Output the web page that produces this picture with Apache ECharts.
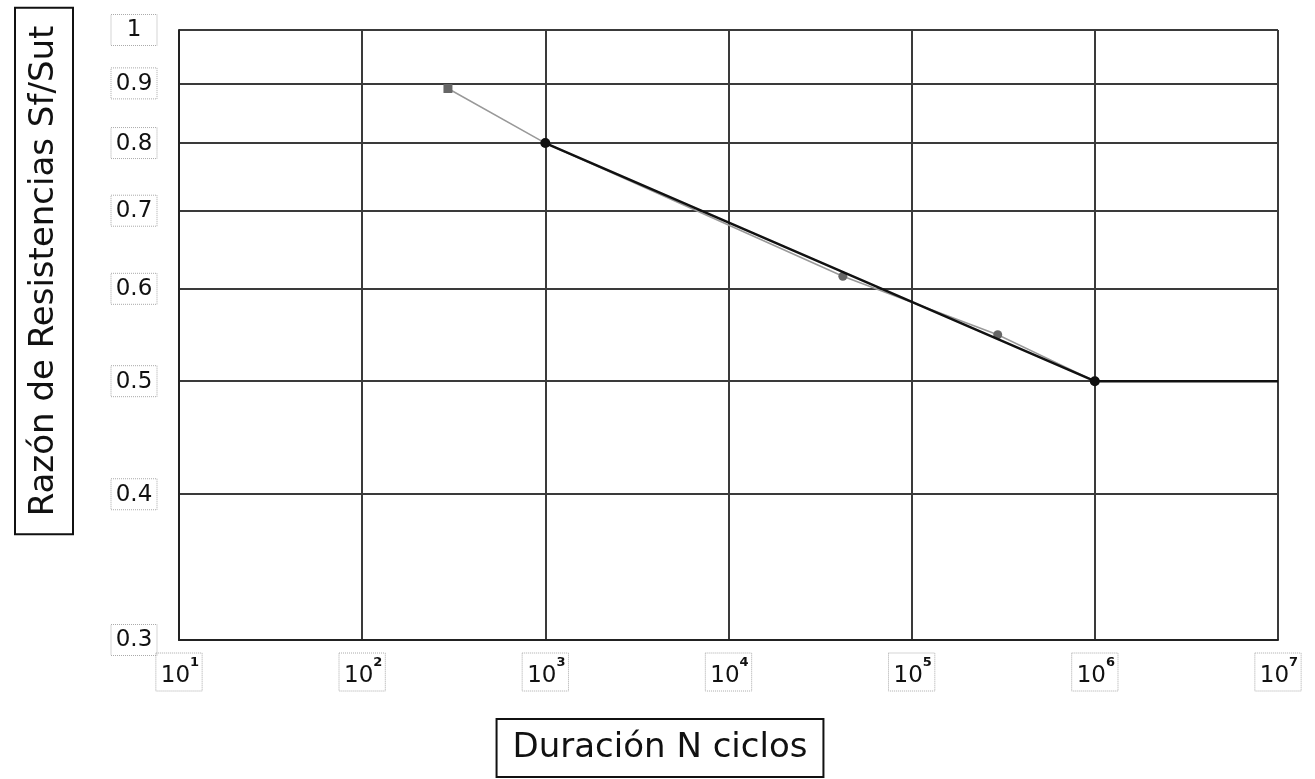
<!DOCTYPE html>
<html>
<head>
<meta charset="utf-8">
<script src="https://cdn.jsdelivr.net/npm/echarts@6/dist/echarts.min.js"></script>
<style>html,body{margin:0;padding:0;background:#fff}#c{width:1315px;height:779px}</style>
</head>
<body>
<div id="c"></div>
<script>
const yTicks = [0.3, 0.4, 0.5, 0.6, 0.7, 0.8, 0.9, 1];
const xExponents = [1, 2, 3, 4, 5, 6, 7];
const greyN = [294, 1000, 42100, 295000, 1000000];
const greyS = [0.891, 0.8, 0.615, 0.548, 0.5];
const blackN = [1000, 1000000, 10000000];
const blackS = [0.8, 0.5, 0.5];
const yTitle = 'Razón de Resistencias Sf/Sut';
const xTitle = 'Duración N ciclos';

const FONT = 'DejaVu Sans';
const chart = echarts.init(document.getElementById('c'));
const greyData = greyN.map((n, i) => ({ value: [n, greyS[i]], symbol: i === 0 ? 'rect' : 'circle' }));
const blackData = blackN.map((n, i) => ({ value: [n, blackS[i]], symbol: i === blackN.length - 1 ? 'none' : 'circle' }));
const xTickVals = xExponents.map(e => Math.pow(10, e));

chart.setOption({
  animation: false,
  backgroundColor: '#fff',
  grid: { left: 179, right: 37, top: 30, bottom: 139 },
  xAxis: {
    type: 'log', logBase: 10, min: 10, max: 1e7, splitNumber: 6,
    axisLine: { lineStyle: { color: '#222', width: 2 } },
    axisTick: { show: false, customValues: xTickVals },
    splitLine: { show: true, lineStyle: { color: '#3a3a3a', width: 2 } },
    axisLabel: {
      customValues: xTickVals,
      margin: 13,
      borderColor: '#aaa', borderWidth: 1, borderType: 'dotted',
      padding: [3, 3, 3, 5],
      formatter: v => '{b|10}{s|' + Math.round(Math.log10(v)) + '}',
      rich: {
        b: { fontFamily: FONT, fontSize: 23, color: '#111', lineHeight: 32, verticalAlign: 'bottom' },
        s: { fontFamily: FONT, fontSize: 13, color: '#111', lineHeight: 32, verticalAlign: 'top', fontWeight: 'bold' }
      }
    }
  },
  yAxis: {
    type: 'log', logBase: 10, min: 0.3, max: 1,
    axisLine: { show: true, lineStyle: { color: '#222', width: 2 } },
    axisTick: { show: false, customValues: yTicks },
    splitLine: { show: true, lineStyle: { color: '#3a3a3a', width: 2 } },
    axisLabel: {
      customValues: yTicks,
      margin: 22,
      borderColor: '#aaa', borderWidth: 1, borderType: 'dotted',
      padding: [4, 4, 3, 4],
      formatter: v => '{a|' + v + '}',
      rich: { a: { fontFamily: FONT, fontSize: 23, color: '#111', width: 38, align: 'center', lineHeight: 24 } }
    }
  },
  series: [
    {
      type: 'line', data: greyData, symbolSize: 9,
      lineStyle: { color: '#999', width: 1.5 },
      itemStyle: { color: '#666' }, z: 3
    },
    {
      type: 'line', data: blackData, symbolSize: 10,
      lineStyle: { color: '#111', width: 2.5 },
      itemStyle: { color: '#111' }, z: 4
    }
  ],
  graphic: [
    {
      type: 'text', x: 44, y: 271, rotation: Math.PI / 2,
      style: {
        text: yTitle, font: '34px "DejaVu Sans"', fill: '#111',
        align: 'center', verticalAlign: 'middle',
        borderColor: '#111', borderWidth: 2, padding: [12, 18, 12, 18]
      }
    },
    {
      type: 'text', x: 660, y: 748,
      style: {
        text: xTitle, font: '34px "DejaVu Sans"', fill: '#111',
        align: 'center', verticalAlign: 'middle',
        borderColor: '#111', borderWidth: 2, padding: [12, 16, 12, 16]
      }
    }
  ]
});
</script>
</body>
</html>
